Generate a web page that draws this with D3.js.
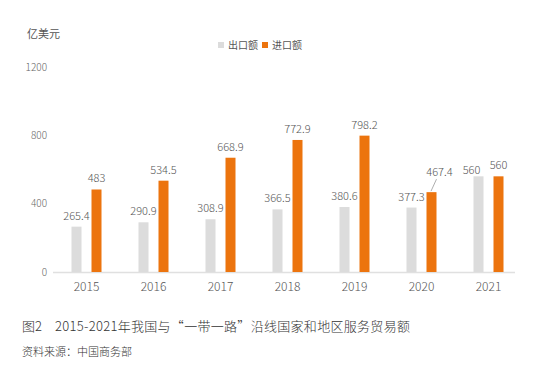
<!DOCTYPE html>
<html>
<head>
<meta charset="utf-8">
<script src="https://cdn.jsdelivr.net/npm/d3@7"></script>
<style>
  body { margin: 0; background: #fff; }
  svg { display: block; font-family: "Noto Sans CJK SC", "Noto Sans", sans-serif; }
</style>
</head>
<body>
<div class="chart"></div>
<script>
const years = ["2015", "2016", "2017", "2018", "2019", "2020", "2021"];
const exportVals = [265.4, 290.9, 308.9, 366.5, 380.6, 377.3, 560];
const importVals = [483, 534.5, 668.9, 772.9, 798.2, 467.4, 560];
const yTicks = [0, 400, 800, 1200];
const seriesNames = ["出口额", "进口额"];
const colors = ["#dcdcdc", "#ec740e"];

const W = 546, H = 389;

const svg = d3.select(".chart").append("svg")
  .attr("width", W)
  .attr("height", H);

const x = d3.scaleBand().domain(years).range([53, 522]).padding(0);
const y = d3.scaleLinear().domain([0, 1200]).range([272, 67]);

const barW = 10;
const offsets = [-15, 5];

// unit label
svg.append("text")
  .attr("x", 27).attr("y", 38)
  .attr("font-size", 11).attr("fill", "#555")
  .text("亿美元");

// legend
const leg = svg.append("g").attr("transform", "translate(218,0)");
seriesNames.forEach((name, i) => {
  const ox = i * 44;
  leg.append("rect")
    .attr("x", ox).attr("y", 42).attr("width", 6).attr("height", 6)
    .attr("fill", colors[i]);
  leg.append("text")
    .attr("x", ox + 10).attr("y", 49)
    .attr("font-size", 10).attr("fill", "#555")
    .text(name);
});

// y tick labels
svg.selectAll(".ytick").data(yTicks).enter().append("text")
  .attr("class", "ytick")
  .attr("x", 47).attr("y", d => y(d))
  .attr("dy", "0.35em")
  .attr("text-anchor", "end")
  .attr("font-size", 10).attr("fill", "#666")
  .attr("font-weight", 300)
  .text(d => d);

// baseline
svg.append("line")
  .attr("x1", 53).attr("x2", 515)
  .attr("y1", y(0) + 0.5).attr("y2", y(0) + 0.5)
  .attr("stroke", "#e0e0e0").attr("stroke-width", 1.5);

// bars
const rows = [];
years.forEach((yr, j) => {
  [exportVals[j], importVals[j]].forEach((v, i) => rows.push({ yr, v, i }));
});

const cx = d => x(d.yr) + x.bandwidth() / 2 + offsets[d.i];

svg.selectAll(".bar").data(rows).enter().append("rect")
  .attr("class", "bar")
  .attr("x", d => cx(d))
  .attr("y", d => y(d.v))
  .attr("width", barW)
  .attr("height", d => y(0) - y(d.v))
  .attr("fill", d => colors[d.i]);

// label nudges where the original moved labels by hand
const nudge = {
  "1-2020": { dx: 8, dy: -9, leader: true },
  "0-2021": { dx: -7, dy: 5 }
};

svg.selectAll(".val").data(rows).enter().append("text")
  .attr("class", "val")
  .attr("x", d => cx(d) + barW / 2 + ((nudge[d.i + "-" + d.yr] || {}).dx || 0))
  .attr("y", d => y(d.v) - 7 + ((nudge[d.i + "-" + d.yr] || {}).dy || 0))
  .attr("text-anchor", "middle")
  .attr("font-size", 11).attr("fill", "#555")
  .attr("font-weight", 300)
  .text(d => d.v);

rows.filter(d => (nudge[d.i + "-" + d.yr] || {}).leader).forEach(d => {
  const bx = cx(d) + barW / 2;
  svg.append("line")
    .attr("x1", bx - 0.5).attr("y1", y(d.v) - 1)
    .attr("x2", bx + 5).attr("y2", y(d.v) - 13)
    .attr("stroke", "#999").attr("stroke-width", 0.8);
});

// year labels
svg.selectAll(".xlab").data(years).enter().append("text")
  .attr("class", "xlab")
  .attr("x", d => x(d) + x.bandwidth() / 2)
  .attr("y", 291)
  .attr("text-anchor", "middle")
  .attr("font-size", 12).attr("fill", "#555")
  .attr("font-weight", 300)
  .text(d => d);

// caption
const cap = svg.append("text")
  .attr("y", 331)
  .attr("font-size", 13).attr("fill", "#333")
  .attr("font-weight", 300);
cap.append("tspan").attr("x", 22).text("图2");
cap.append("tspan").attr("x", 55)
  .attr("letter-spacing", 0.3)
  .text("2015-2021年我国与“一带一路”沿线国家和地区服务贸易额");

svg.append("text")
  .attr("x", 22).attr("y", 356)
  .attr("font-size", 11).attr("fill", "#333")
  .attr("font-weight", 300)
  .text("资料来源：中国商务部");
</script>
</body>
</html>
